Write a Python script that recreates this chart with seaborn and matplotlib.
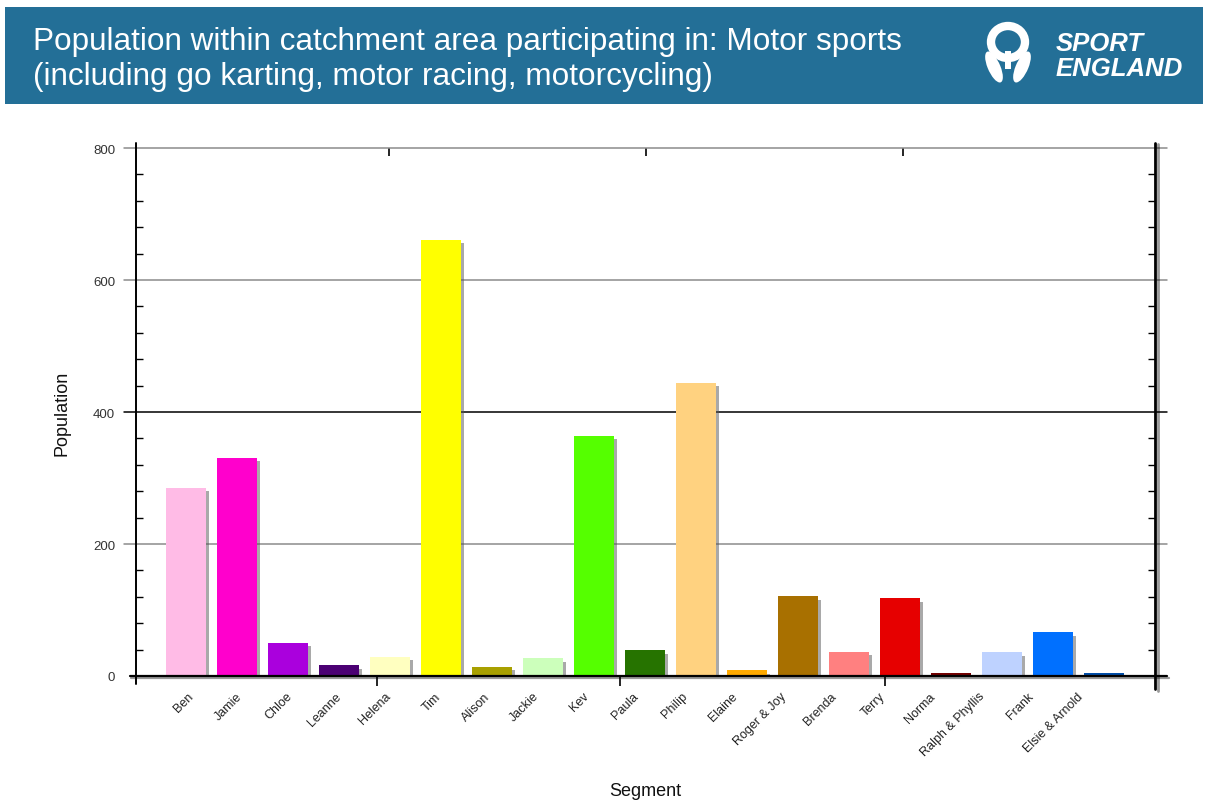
import matplotlib
matplotlib.use("Agg")
import matplotlib.pyplot as plt
import matplotlib.patheffects as pe
from matplotlib.lines import Line2D
from matplotlib.patches import Rectangle, Ellipse
import seaborn as sns
import pandas as pd

segments = ["Ben", "Jamie", "Chloe", "Leanne", "Helena", "Tim", "Alison", "Jackie",
            "Kev", "Paula", "Philip", "Elaine", "Roger & Joy", "Brenda", "Terry",
            "Norma", "Ralph & Phyllis", "Frank", "Elsie & Arnold"]
population = [285, 331, 50, 16, 29, 661, 14, 27, 364, 39, 444, 9, 121, 37, 118, 5, 36, 66, 5]
colors = ["#FFBBE6", "#FF00CC", "#AA00DD", "#4B0073", "#FFFFC0", "#FFFF00", "#A8A000",
          "#CCFFBB", "#55FF00", "#267300", "#FFD280", "#FFAA00", "#A87000", "#FF8080",
          "#E60000", "#730000", "#BED2FF", "#0070FF", "#004DA8"]
y_ticks = [0, 200, 400, 600, 800]
title_lines = ["Population within catchment area participating in: Motor sports",
               "(including go karting, motor racing, motorcycling)"]

sns.set_style("white")
plt.rcParams["font.family"] = ["Liberation Sans", "DejaVu Sans"]

W, H = 1209, 803
fig = plt.figure(figsize=(W / 100, H / 100), dpi=100)
fig.patch.set_facecolor("white")

# Header band
fig.patches.append(Rectangle((5 / W, 1 - 105 / H), 1198 / W, 97 / H,
                             transform=fig.transFigure, facecolor="#236F97",
                             edgecolor="none", zorder=0))
fig.text(33 / W, 1 - 42 / H, title_lines[0], color="white", fontsize=22.7,
         va="center", ha="left")
fig.text(33 / W, 1 - 77 / H, title_lines[1], color="white", fontsize=22.7,
         va="center", ha="left")
# Logo text
fig.text(1056 / W, 1 - 44 / H, "SPORT", color="white", fontsize=18.5,
         fontweight="bold", fontstyle="italic", va="center", ha="left")
fig.text(1056 / W, 1 - 69 / H, "ENGLAND", color="white", fontsize=18.5,
         fontweight="bold", fontstyle="italic", va="center", ha="left")
# Logo icon (simple approximation)
fig.patches.append(Ellipse((1008 / W, 1 - 43 / H), 34 / W, 32 / H,
                           transform=fig.transFigure, facecolor="none",
                           edgecolor="white", linewidth=6, zorder=2))
fig.patches.append(Ellipse((994 / W, 1 - 68 / H), 13 / W, 32 / H, angle=15,
                           transform=fig.transFigure, facecolor="white",
                           edgecolor="none", zorder=2))
fig.patches.append(Ellipse((1022 / W, 1 - 68 / H), 13 / W, 32 / H, angle=-15,
                           transform=fig.transFigure, facecolor="white",
                           edgecolor="none", zorder=2))
fig.patches.append(Rectangle((1005 / W, 1 - 70 / H), 6 / W, 18 / H,
                             transform=fig.transFigure, facecolor="white",
                             edgecolor="none", zorder=2))

ax = fig.add_axes([136 / W, 1 - 677 / H, 1019 / W, 528 / H])
df = pd.DataFrame({"Segment": segments, "Population": population})
sns.barplot(data=df, x="Segment", y="Population", hue="Segment",
            palette=colors, legend=False, saturation=1, width=0.79,
            edgecolor="none", ax=ax, zorder=3)
for bar in ax.patches:
    bar.set_path_effects([pe.SimplePatchShadow(offset=(2.2, -2.5),
                                               shadow_rgbFace="#555555", alpha=0.5),
                          pe.Normal()])

ax.set_ylim(0, 800)
ax.set_xlim(-0.98, 19.0)

for s in ax.spines.values():
    s.set_visible(False)

# Gridlines
for v in y_ticks[1:]:
    col = "#000000" if v == 400 else "#8C8C8C"
    ax.add_line(Line2D([-0.012, 1.012], [v / 800, v / 800], transform=ax.transAxes,
                       color=col, lw=1.1, clip_on=False, zorder=1))
# Axis lines
ax.add_line(Line2D([-0.006, 1.012], [0, 0], transform=ax.transAxes,
                   color="black", lw=1.6, clip_on=False, zorder=5,
                   path_effects=[pe.SimpleLineShadow(offset=(1, -1.5), alpha=0.4), pe.Normal()]))
ax.add_line(Line2D([0, 0], [-0.015, 1.01], transform=ax.transAxes,
                   color="black", lw=1.4, clip_on=False, zorder=5))
ax.add_line(Line2D([1, 1], [-0.025, 1.01], transform=ax.transAxes,
                   color="black", lw=2.0, clip_on=False, zorder=5,
                   path_effects=[pe.SimpleLineShadow(offset=(2, -1), alpha=0.4), pe.Normal()]))

ax.set_yticks(y_ticks)
ax.set_yticklabels([str(v) for v in y_ticks], fontsize=9.5, color="#333333")
ax.yaxis.set_minor_locator(matplotlib.ticker.MultipleLocator(40))
ax.tick_params(axis="y", which="major", left=True, right=False, length=0, pad=15)
ax.tick_params(axis="y", which="minor", left=True, right=True, direction="in",
               length=5, width=1.0, color="black")

# category label positions (labels in the reference are spaced slightly tighter than bars)
label_pos = [0.02 + i * 0.9696 for i in range(len(segments))]
ax.tick_params(axis="x", which="major", bottom=False, length=0, pad=10)
ax.set_xticks(label_pos)
ax.set_xticklabels(segments, rotation=45, ha="right", rotation_mode="anchor",
                   fontsize=9, color="#222222")
ax.set_xticks([3.75, 8.51, 13.71], minor=True)
ax.tick_params(axis="x", which="minor", bottom=True, direction="out", length=7,
               width=1.2, color="black")
secx = ax.secondary_xaxis("top")
secx.set_xticks([3.98, 9.02, 14.05])
secx.set_xticklabels([])
secx.tick_params(direction="in", length=6, width=1.2, color="black")
secx.spines["top"].set_visible(False)

ax.set_xlabel("Segment", fontsize=13, color="#111111")
ax.set_ylabel("Population", fontsize=13, color="#111111")
ax.xaxis.set_label_coords(0.5, -0.2)
ax.yaxis.set_label_coords(-0.064, 0.5)

fig.savefig("out.png", dpi=100, facecolor="white")
